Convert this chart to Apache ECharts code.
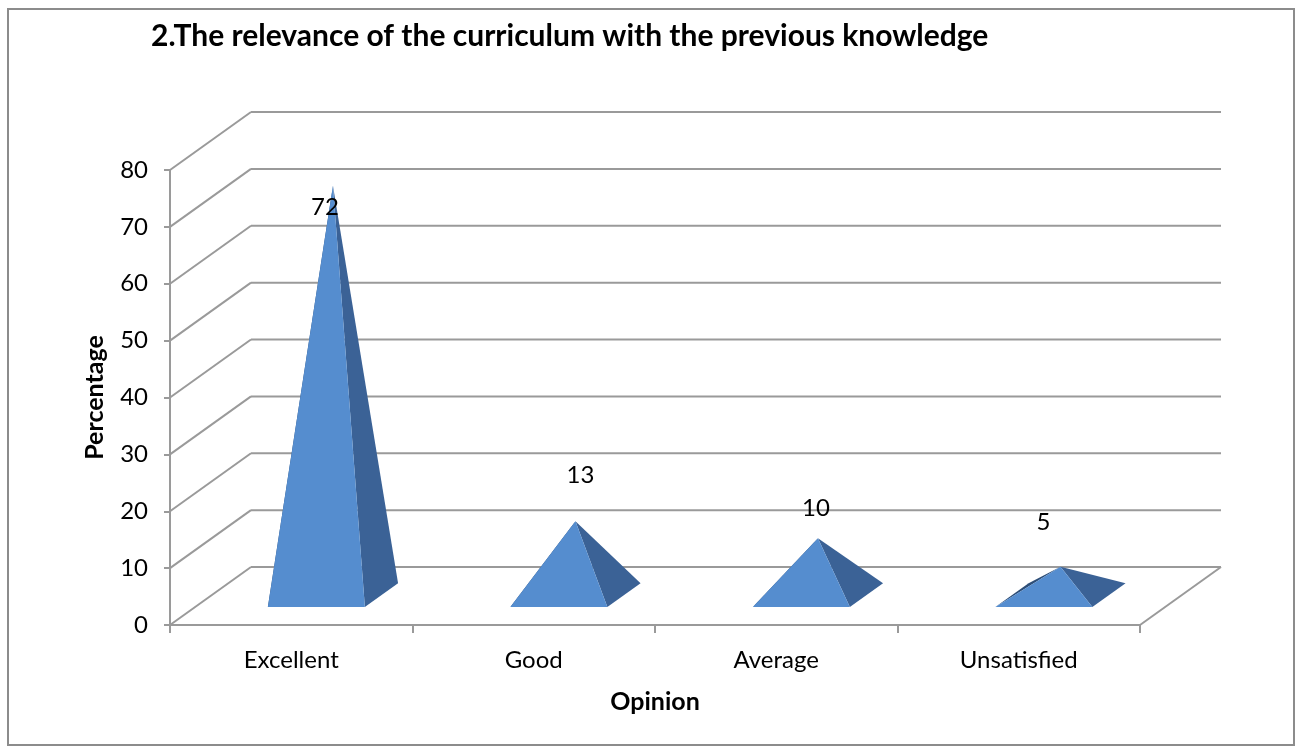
<!DOCTYPE html>
<html>
<head>
<meta charset="utf-8">
<script src="https://cdn.jsdelivr.net/npm/echarts@6/dist/echarts.min.js"></script>
<style>
  html, body { margin: 0; padding: 0; background: #fff; }
  #chart { width: 1297px; height: 747px; }
</style>
</head>
<body>
<div id="chart"></div>
<script>
// data
var categories = ['Excellent', 'Good', 'Average', 'Unsatisfied'];
var percentages = [72, 13, 10, 5];
var yTicks = [0, 10, 20, 30, 40, 50, 60, 70, 80];

// label nudges (px) relative to the apex, Excel puts them a bit oddly
var labelNudge = [[-8, 22], [5, -46], [-2, -30], [-17, -44]];

// depth of the fake 3d box
var DX = 81, DY = -58;
var lineColor = '#9a9a9a';
var font = 'Lato';

var chart = echarts.init(document.getElementById('chart'));

// back wall + left wall lines
function renderWalls(params, api) {
  var cs = params.coordSys;
  var v = api.value(1);
  var p = api.coord([0, v]);
  var y = p[1];
  var x0 = cs.x, x1 = cs.x + cs.width;
  var children = [
    { type: 'line', shape: { x1: x0, y1: y, x2: x0 + DX, y2: y + DY },
      style: { stroke: lineColor, lineWidth: 2 } },
    { type: 'line', shape: { x1: x0 + DX, y1: y + DY, x2: x1 + DX, y2: y + DY },
      style: { stroke: lineColor, lineWidth: 2 } }
  ];
  if (v === 0) {
    children.push({ type: 'line', shape: { x1: x1, y1: y, x2: x1 + DX, y2: y + DY },
      style: { stroke: lineColor, lineWidth: 2 } });
  }
  return { type: 'group', children: children };
}

function renderPyramid(params, api) {
  var idx = api.value(0);
  var val = api.value(1);
  var base = api.coord([idx, 0]);
  var top = api.coord([idx, val]);
  var h = base[1] - top[1];
  var half = api.size([1, 0])[0] * 0.2;
  var t1 = 0.31, t2 = 0.72, tm = (t1 + t2) / 2;
  var FL = [base[0] - half + t1 * DX, base[1] + t1 * DY];
  var FR = [base[0] + half + t1 * DX, base[1] + t1 * DY];
  var BL = [base[0] - half + t2 * DX, base[1] + t2 * DY];
  var BR = [base[0] + half + t2 * DX, base[1] + t2 * DY];
  var AP = [base[0] + tm * DX, base[1] + tm * DY - h];
  var nud = labelNudge[params.dataIndex];
  return {
    type: 'group',
    children: [
      { type: 'polygon', shape: { points: [FL, BL, AP] }, style: { fill: '#2d4e78' } },
      { type: 'polygon', shape: { points: [FR, BR, AP] }, style: { fill: '#3b6296' } },
      { type: 'polygon', shape: { points: [FL, FR, AP] }, style: { fill: '#558dcf' } },
      { type: 'text', x: AP[0] + nud[0], y: AP[1] + nud[1],
        style: { text: String(val), fill: '#000', font: '24px ' + font,
                 align: 'center', verticalAlign: 'middle' } }
    ]
  };
}

var option = {
  animation: false,
  textStyle: { fontFamily: font },
  title: {
    text: '2.The relevance of the curriculum with the previous knowledge',
    left: 146, top: 16,
    textStyle: { fontSize: 30, fontWeight: 'bold', color: '#000', fontFamily: font }
  },
  graphic: [{
    type: 'rect', shape: { x: 8, y: 9, width: 1286, height: 736 },
    style: { fill: 'none', stroke: '#8c8c8c', lineWidth: 2 }, silent: true
  }],
  grid: { left: 170, right: 157, top: 170, bottom: 122 },
  xAxis: {
    type: 'category',
    data: categories,
    name: 'Opinion',
    nameLocation: 'middle',
    nameGap: 64,
    nameTextStyle: { fontSize: 25, fontWeight: 'bold', color: '#000', fontFamily: font },
    axisLine: { lineStyle: { color: lineColor, width: 2 } },
    axisTick: { show: true, length: 8, lineStyle: { color: lineColor, width: 2 } },
    axisLabel: { fontSize: 24, color: '#000', margin: 23, fontFamily: font },
    splitLine: { show: false }
  },
  yAxis: {
    type: 'value',
    min: 0, max: 80, interval: 10,
    name: 'Percentage',
    nameLocation: 'middle',
    nameGap: 63,
    nameRotate: 90,
    nameTextStyle: { fontSize: 25, fontWeight: 'bold', color: '#000', fontFamily: font },
    axisLine: { show: true, lineStyle: { color: lineColor, width: 2 } },
    axisTick: { show: true, length: 6, lineStyle: { color: lineColor, width: 2 } },
    axisLabel: { fontSize: 24, color: '#000', margin: 22, fontFamily: font },
    splitLine: { show: false }
  },
  series: [
    {
      type: 'custom',
      renderItem: renderWalls,
      data: yTicks.map(function (v) { return [0, v]; }),
      z: 1, silent: true
    },
    {
      type: 'custom',
      renderItem: renderPyramid,
      data: percentages.map(function (v, i) { return [i, v]; }),
      z: 3
    }
  ]
};

chart.setOption(option);
</script>
</body>
</html>
